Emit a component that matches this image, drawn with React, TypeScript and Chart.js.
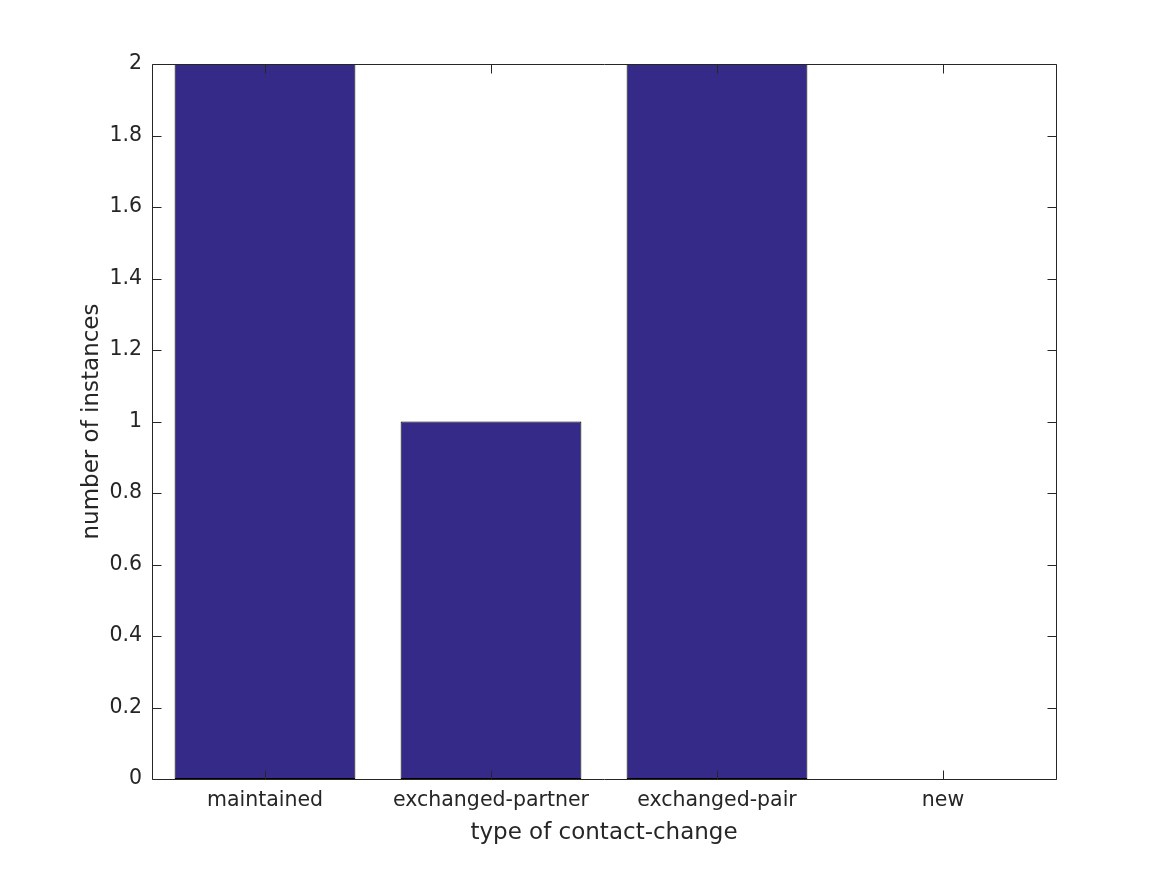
import React, { useEffect, useRef } from "react";
import { Chart, registerables } from "chart.js";

Chart.register(...registerables);

const categories = ["maintained", "exchanged-partner", "exchanged-pair", "new"];
const counts = [2, 1, 2, 0];
const xTitle = "type of contact-change";
const yTitle = "number of instances";

const TEXT = "#262626";
const BAR = "#352a87";
const FONT = "'DejaVu Sans', sans-serif";

const boxPlugin = {
  id: "boxTicks",
  afterDatasetsDraw(chart: any) {
    const { ctx, chartArea, scales } = chart;
    const { left, right, top, bottom } = chartArea;
    ctx.save();
    ctx.strokeStyle = TEXT;
    ctx.lineWidth = 1;
    ctx.beginPath();
    const L = Math.round(left) + 0.5;
    const R = Math.round(right) + 0.5;
    const T = Math.round(top) + 0.5;
    const B = Math.round(bottom) + 0.5;
    ctx.rect(L, T, R - L, B - T);
    const tl = 9;
    scales.y.ticks.forEach((t: any) => {
      const y = Math.round(scales.y.getPixelForValue(t.value)) + 0.5;
      ctx.moveTo(L, y);
      ctx.lineTo(L + tl, y);
      ctx.moveTo(R, y);
      ctx.lineTo(R - tl, y);
    });
    categories.forEach((_, i) => {
      const x = Math.round(scales.x.getPixelForValue(i)) + 0.5;
      ctx.moveTo(x, B);
      ctx.lineTo(x, B - tl);
      ctx.moveTo(x, T);
      ctx.lineTo(x, T + tl);
    });
    ctx.stroke();
    ctx.restore();
  },
};

export default function App() {
  const ref = useRef<HTMLCanvasElement>(null);
  useEffect(() => {
    const chart = new Chart(ref.current!, {
      type: "bar",
      data: {
        labels: categories,
        datasets: [
          {
            data: counts,
            backgroundColor: BAR,
            borderColor: "#000000",
            borderWidth: 1,
            borderSkipped: false,
            barPercentage: 0.8,
            categoryPercentage: 1,
          },
        ],
      },
      options: {
        responsive: false,
        animation: false,
        layout: { padding: { left: 74, top: 64, right: 111, bottom: 24 } },
        plugins: { legend: { display: false }, tooltip: { enabled: false } },
        scales: {
          x: {
            grid: { display: false, drawTicks: false },
            border: { display: false },
            ticks: { color: TEXT, font: { family: FONT, size: 20.5 }, padding: 9, maxRotation: 0 },
            title: { display: true, text: xTitle, color: TEXT, font: { family: FONT, size: 23 } },
            afterFit: (s: any) => {
              s.height = 72;
            },
          },
          y: {
            min: 0,
            max: 2,
            grid: { display: false, drawTicks: false },
            border: { display: false },
            ticks: {
              stepSize: 0.2,
              color: TEXT,
              font: { family: FONT, size: 20.5 },
              padding: 10,
              callback: (v: any) => String(Number(Number(v).toFixed(1))),
            },
            title: { display: true, text: yTitle, color: TEXT, font: { family: FONT, size: 23 } },
            afterFit: (s: any) => {
              s.width = 78;
            },
          },
        },
      },
      plugins: [boxPlugin],
    });
    return () => chart.destroy();
  }, []);
  return (
    <div style={{ position: "fixed", left: 0, top: 0, width: 1167, height: 875, background: "#fff" }}>
      <canvas ref={ref} width={1167} height={875} />
    </div>
  );
}
